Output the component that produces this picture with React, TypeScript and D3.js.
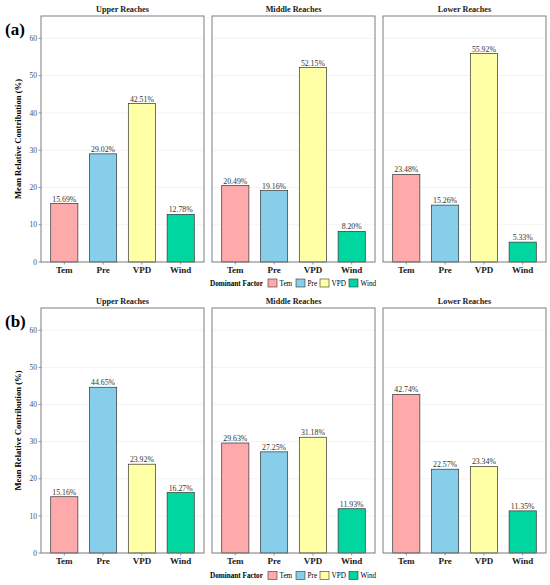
import React from 'react';
import * as d3 from 'd3';

const factors = ['Tem', 'Pre', 'VPD', 'Wind'];
const reaches = ['Upper Reaches', 'Middle Reaches', 'Lower Reaches'];
const colors = ['#FFAAAA', '#87CEEB', '#FFFFA6', '#00D7A0'];
const yTicks = [0, 10, 20, 30, 40, 50, 60];

// (a)
const upperA = [15.69, 29.02, 42.51, 12.78];
const middleA = [20.49, 19.16, 52.15, 8.2];
const lowerA = [23.48, 15.26, 55.92, 5.33];
// (b)
const upperB = [15.16, 44.65, 23.92, 16.27];
const middleB = [29.63, 27.25, 31.18, 11.93];
const lowerB = [42.74, 22.57, 23.34, 11.35];

const W = 550;
const H = 585;
const font = '"Liberation Serif", "DejaVu Serif", serif';

const panelLefts = [41, 212, 383];
const panelW = 163;

function Row({ tag, top, bottom, series }: { tag: string; top: number; bottom: number; series: number[][] }) {
  const y = d3.scaleLinear().domain([0, 66]).range([bottom, top]);
  return (
    <g>
      <text x={5} y={top + 19} fontFamily={font} fontWeight="bold" fontSize={17} fill="#000">{tag}</text>
      <text
        transform={`translate(21,${(top + bottom) / 2}) rotate(-90)`}
        textAnchor="middle"
        fontFamily={font}
        fontWeight="bold"
        fontSize={8.6}
        fill="#000"
      >Mean Relative Contribution (%)</text>
      {yTicks.map(t => (
        <g key={t}>
          <line x1={panelLefts[0] - 2.5} x2={panelLefts[0]} y1={y(t)} y2={y(t)} stroke="#4d4d4d" strokeWidth={0.6} />
          <text x={panelLefts[0] - 4} y={y(t)} dy="0.35em" textAnchor="end" fontFamily={font} fontSize={7.5} fill="#4d4d4d">{t}</text>
        </g>
      ))}
      {series.map((vals, pi) => {
        const x0 = panelLefts[pi];
        const x = d3.scaleLinear().domain([0.4, 4.6]).range([x0, x0 + panelW]);
        const bw = x(1.35) - x(1);
        return (
          <g key={pi}>
            <text x={x0 + panelW / 2} y={top - 4} textAnchor="middle" fontFamily={font} fontWeight="bold" fontSize={8.2} fill="#1a1a1a">{reaches[pi]}</text>
            <rect x={x0} y={top} width={panelW} height={bottom - top} fill="#fff" />
            {yTicks.map(t => (
              <line key={t} x1={x0} x2={x0 + panelW} y1={y(t)} y2={y(t)} stroke="#ebebeb" strokeWidth={0.6} />
            ))}
            {vals.map((v, i) => (
              <g key={i}>
                <rect x={x(i + 1) - bw} y={y(v)} width={bw * 2} height={y(0) - y(v)} fill={colors[i]} stroke="#333" strokeWidth={0.7} />
                <text x={x(i + 1)} y={y(v) - 2} textAnchor="middle" fontFamily={font} fontSize={7.8} fill="#333">{v.toFixed(2)}%</text>
                <line x1={x(i + 1)} x2={x(i + 1)} y1={bottom} y2={bottom + 2.5} stroke="#4d4d4d" strokeWidth={0.6} />
                <text x={x(i + 1)} y={bottom + 10.5} textAnchor="middle" fontFamily={font} fontWeight="bold" fontSize={9} fill="#1a1a1a">{factors[i]}</text>
              </g>
            ))}
            <rect x={x0} y={top} width={panelW} height={bottom - top} fill="none" stroke="#7f7f7f" strokeWidth={1} />
          </g>
        );
      })}
    </g>
  );
}

function Legend({ cy }: { cy: number }) {
  const keyX = [268, 296, 320, 349];
  return (
    <g>
      <text x={210} y={cy} dy="0.35em" fontFamily={font} fontWeight="bold" fontSize={7.2} fill="#000">Dominant Factor</text>
      {factors.map((f, i) => (
        <g key={f}>
          <rect x={keyX[i]} y={cy - 4} width={9} height={8} fill={colors[i]} stroke="#333" strokeWidth={0.6} />
          <text x={keyX[i] + 11.5} y={cy} dy="0.35em" fontFamily={font} fontSize={7.2} fill="#000">{f}</text>
        </g>
      ))}
    </g>
  );
}

export default function App() {
  return (
    <div style={{ position: 'absolute', left: 0, top: 0 }}>
      <svg width={W} height={H} style={{ display: 'block', background: '#fff' }}>
        <Row tag="(a)" top={16} bottom={262} series={[upperA, middleA, lowerA]} />
        <Legend cy={283} />
        <Row tag="(b)" top={308} bottom={553} series={[upperB, middleB, lowerB]} />
        <Legend cy={575.5} />
      </svg>
    </div>
  );
}
